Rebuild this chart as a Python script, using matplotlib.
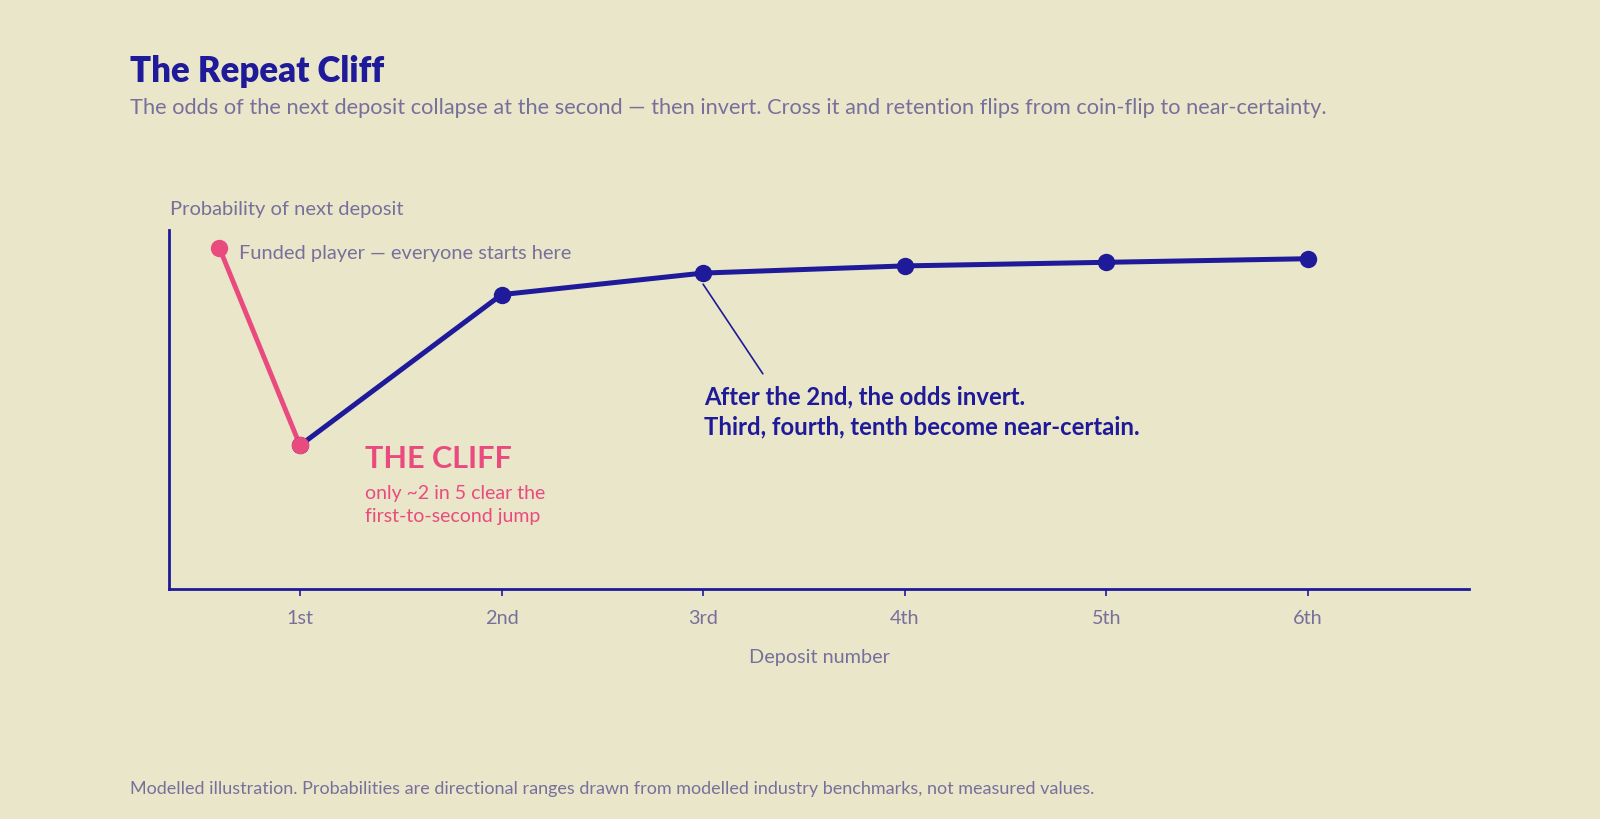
import matplotlib
matplotlib.use("Agg")
import matplotlib.pyplot as plt
from matplotlib.transforms import offset_copy

# 색상 / 폰트
BG = "#EAE6C9"
NAVY = "#1E1A99"
PINK = "#E94B7E"
GREY = "#77709C"
plt.rcParams["font.family"] = ["Lato", "DejaVu Sans"]

# 데이터
start_x = 0.6
start_p = 0.95
deposits = [1, 2, 3, 4, 5, 6]
tick_labels = ["1st", "2nd", "3rd", "4th", "5th", "6th"]
probs = [0.40, 0.82, 0.88, 0.90, 0.91, 0.92]

W, H = 1600, 820


def px(x, y):
    # 픽셀 좌표 -> figure 비율
    return x / W, 1 - y / H


fig = plt.figure(figsize=(16, 8.2), dpi=100, facecolor=BG)
ax = fig.add_axes([169 / W, 1 - 590 / H, 1300 / W, 359 / H])
ax.set_facecolor(BG)

# 첫 구간 (분홍)
ax.plot([start_x, deposits[0]], [start_p, probs[0]], color=PINK, lw=3.5,
        solid_capstyle="round", zorder=3)
# 이후 구간 (남색)
ax.plot(deposits, probs, color=NAVY, lw=3.6, marker="o", ms=11.5,
        markerfacecolor=NAVY, markeredgecolor=NAVY, zorder=3)
ax.plot([start_x, deposits[0]], [start_p, probs[0]], linestyle="none",
        marker="o", ms=11.5, color=PINK, zorder=4)

ax.set_xlim(0.35, 6.8)
ax.set_ylim(0, 1)
ax.set_xticks(deposits)
ax.set_xticklabels(tick_labels)
ax.set_yticks([])
for side in ["top", "right"]:
    ax.spines[side].set_visible(False)
for side in ["left", "bottom"]:
    ax.spines[side].set_color(NAVY)
    ax.spines[side].set_linewidth(2)
ax.tick_params(axis="x", length=5, width=1.2, color=NAVY, pad=9.5,
               labelsize=14.3, labelcolor=GREY)
ax.set_xlabel("Deposit number", fontsize=14.3, color=GREY, labelpad=15.5)

# 주석
ax.annotate("Funded player — everyone starts here", xy=(start_x, start_p),
            xytext=(14, -3), textcoords="offset points", va="center",
            ha="left", fontsize=14.4, color=GREY)

ax.annotate("THE CLIFF", xy=(deposits[0], probs[0]), xytext=(47, -9),
            textcoords="offset points", va="center", ha="left",
            fontsize=22, fontweight="bold", color=PINK)
ax.annotate("only ~2 in 5 clear the\nfirst-to-second jump",
            xy=(deposits[0], probs[0]), xytext=(47, -27.5),
            textcoords="offset points", va="top", ha="left",
            fontsize=14, color=PINK, linespacing=1.47)

below = offset_copy(ax.transData, fig=fig, x=0, y=-8, units="points")
ax.annotate("", xy=(deposits[2], probs[2]), xycoords=below,
            xytext=(43, -64.5), textcoords="offset points",
            arrowprops=dict(arrowstyle="-", color=NAVY, lw=1.2,
                            shrinkA=0, shrinkB=0))
ax.annotate("After the 2nd, the odds invert.\nThird, fourth, tenth become near-certain.",
            xy=(deposits[2], probs[2]), xytext=(1, -80.5),
            textcoords="offset points", va="top", ha="left",
            fontsize=17.2, fontweight="bold", color=NAVY, linespacing=1.33)

# 제목 / 텍스트
fig.text(*px(130, 71), "The Repeat Cliff", fontsize=25, fontweight="heavy",
         color=NAVY, va="center", ha="left")
fig.text(*px(130, 108),
         "The odds of the next deposit collapse at the second — then invert. "
         "Cross it and retention flips from coin-flip to near-certainty.",
         fontsize=15.7, color=GREY, va="center", ha="left")
fig.text(*px(170, 210), "Probability of next deposit", fontsize=14.5,
         color=GREY, va="center", ha="left")
fig.text(*px(130, 789),
         "Modelled illustration. Probabilities are directional ranges drawn "
         "from modelled industry benchmarks, not measured values.",
         fontsize=13, color=GREY, va="center", ha="left")

fig.savefig("out.png", dpi=100, facecolor=BG)
